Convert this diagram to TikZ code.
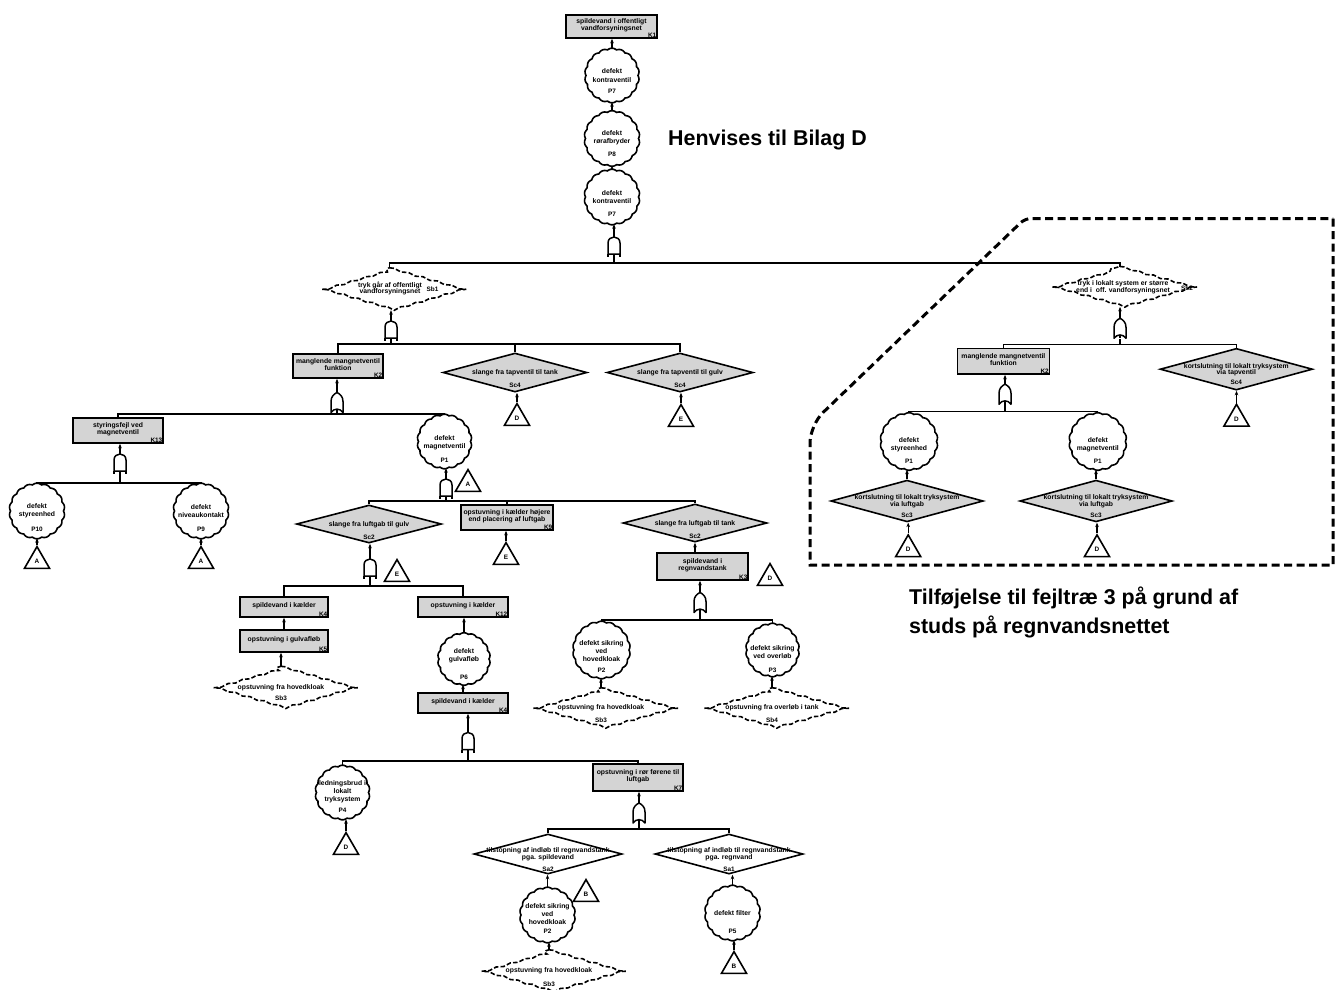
\documentclass[tikz,border=0pt]{standalone}
\usepackage{fontspec}
\setmainfont{Liberation Sans}
\usetikzlibrary{shapes.geometric,arrows.meta,decorations.pathmorphing}

\definecolor{boxgray}{RGB}{212,212,212}

\tikzset{
  conn/.style={line width=1.2pt},
  arr/.style={line width=1.2pt, -{Stealth[length=4.5pt,width=3.6pt]}},
  boxshape/.style={rectangle, draw, line width=1.6pt, fill=boxgray, inner sep=0pt},
  smalltext/.style={font=\bfseries\fontsize{6.8}{6.8}\selectfont, align=center, inner sep=0pt},
  circtext/.style={font=\bfseries\fontsize{6.8}{8.2}\selectfont, align=center, inner sep=0pt},
  codetext/.style={font=\bfseries\fontsize{6.4}{7}\selectfont, inner sep=1.3pt},
  circshape/.style={circle, inner sep=0pt},
  wavyline/.style={line width=1.6pt, fill=white},
  diashape/.style={diamond, draw, line width=1.6pt, fill=boxgray, inner sep=0pt},
  whitedia/.style={diamond, draw, line width=1.6pt, fill=white, inner sep=0pt},
  dashdia/.style={diamond, inner sep=0pt},
  dashline/.style={line width=1.6pt, dash pattern=on 4.5pt off 2.2pt,
    decorate, decoration={snake, amplitude=0.8pt, segment length=15pt}},
  tri/.style={regular polygon, regular polygon sides=3, draw, line width=1.6pt,
    fill=white, minimum size=29pt, inner sep=0pt, font=\bfseries\fontsize{6.4}{7}\selectfont},
  gatebox/.style={rectangle, minimum width=13pt, minimum height=20pt, inner sep=0pt},
  gateline/.style={line width=1.5pt, fill=white, line join=round},
  region/.style={line width=3pt, dash pattern=on 8pt off 4.5pt},
  bigtext/.style={font=\bfseries\fontsize{21.4}{25}\selectfont, inner sep=0pt},
}

% event box: name, x, y, width, height, text, code
\newcommand\ebox[7]{%
  \node[boxshape, minimum width=#4pt, minimum height=#5pt] (#1) at (#2,#3) {};
  \node[smalltext] (#1t) at (#2,{#3-1.5}) {#6};
  \node[codetext, anchor=south east] (#1c) at (#1.south east) {#7};}

% scalloped circle: name, x, y, radius, text, code, text dy, code dy
\newcommand\ecirc[8]{%
  \draw[wavyline] plot[domain=0:360,samples=217,variable=\t]
    ({#2+(#4-0.5+1.3*abs(sin(9*\t)))*cos(\t)},{#3+(#4-0.5+1.3*abs(sin(9*\t)))*sin(\t)}) -- cycle;
  \pgfmathsetmacro\circdiam{2*#4}%
  \node[circshape, minimum size=\circdiam pt] (#1) at (#2,#3) {};
  \node[circtext] (#1t) at (#2,{#3+#7}) {#5};
  \node[codetext] (#1c) at (#2,{#3+#8}) {#6};}

% solid diamond: style, name, x, y, width, height, text, code, code dy
\newcommand\edia[9]{%
  \node[#1, minimum width=#5pt, minimum height=#6pt] (#2) at (#3,#4) {};
  \node[smalltext] (#2t) at (#3,{#4+0.5}) {#7};
  \node[codetext] (#2c) at (#3,{#4+#9}) {#8};}

% dashed diamond: name, x, y, width, height, text, code, code dy
\newcommand\sbdia[8]{%
  \node[dashdia, minimum width=#4pt, minimum height=#5pt] (#1) at (#2,#3) {};
  \draw[dashline] (#1.north) -- (#1.east) -- (#1.south) -- (#1.west) -- cycle;
  \node[smalltext] (#1t) at (#2,#3) {#6};
  \node[codetext] (#1c) at (#2,{#3+#8}) {#7};}

% gates: name, x, y
\newcommand\andgate[3]{%
  \node[gatebox] (#1) at (#2,#3) {};
  \begin{scope}[shift={(#2,#3)}]
    \draw[gateline] (-6,7) -- (-6,-4) .. controls (-6,-12) and (6,-12) .. (6,-4) -- (6,7) -- cycle;
    \draw[gateline] (-6,7) -- (-6,10) (6,7) -- (6,10) (0,7) -- (0,10);
  \end{scope}}
\newcommand\orgate[3]{%
  \node[gatebox] (#1) at (#2,#3) {};
  \begin{scope}[shift={(#2,#3)}]
    \draw[gateline] (-6,10) -- (-6,-1) .. controls (-6,-6) and (-3,-8.5) .. (0,-10)
      .. controls (3,-8.5) and (6,-6) .. (6,-1) -- (6,10) .. controls (3,5.5) and (-3,5.5) .. (-6,10) -- cycle;
    \draw[gateline] (0,6.6) -- (0,10);
  \end{scope}}

\begin{document}
\begin{tikzpicture}[x=1pt,y=-1pt]
\useasboundingbox (0,0) rectangle (1343,989);

% ---------- top event chain
\ebox{K1}{611.5}{26.5}{91}{23}{spildevand i offentligt\\vandforsyningsnet}{K1}
\ecirc{P7a}{612}{75.5}{26.5}{defekt\\kontraventil}{P7}{0}{16}
\ecirc{P8}{612}{138.5}{27}{defekt\\rørafbryder}{P8}{-1}{16}
\ecirc{P7b}{612}{197}{27}{defekt\\kontraventil}{P7}{0}{17}
\andgate{G1}{614}{247}
\draw[arr] (P7a.north) -- (P7a.north |- K1.south);
\draw[arr] (P8.north) -- (P7a.south);
\draw[arr] (P7b.north) -- (P8.south);
\draw[arr] (G1.north) -- (G1.north |- P7b.south);

\node[bigtext, anchor=base west] (ref) at (668,145) {Henvises til Bilag D};

% ---------- first split
\node[dashdia, minimum width=145pt, minimum height=42pt] (Sb1) at (389.5,289) {};
\draw[dashline] (Sb1.north) -- (Sb1.east) -- (Sb1.south) -- (Sb1.west) -- cycle;
\node[smalltext] (Sb1t) at (390,288.5) {tryk går af offentligt\\vandforsyningsnet};
\node[codetext] (Sb1c) at (432.5,289) {Sb1};

\node[dashdia, minimum width=145pt, minimum height=40pt] (Sb2) at (1120,286.7) {};
\draw[dashline] (Sb2.north) -- (Sb2.east) -- (Sb2.south) -- (Sb2.west) -- cycle;
\node[smalltext] (Sb2t) at (1123,287) {tryk i lokalt system er større\\end i~~off. vandforsyningsnet};
\node[codetext] (Sb2c) at (1187,288) {Sb2};

\coordinate (b1) at (614,263);
\draw[conn] (G1.south) -- (b1);
\draw[conn] (Sb1.north) |- (b1) -| (Sb2.north);

% ---------- Sb1 subtree
\andgate{G2}{391}{331}
\coordinate (b2) at (391,344);
\ebox{K2l}{338}{366}{90}{24}{manglende mangnetventil\\funktion}{K2}
\edia{diashape}{Sc4a}{515}{372.5}{144}{39}{slange fra tapventil til tank}{Sc4}{12.5}
\edia{diashape}{Sc4b}{680}{372.5}{146}{39}{slange fra tapventil til gulv}{Sc4}{12.5}
\node[tri, anchor=north] (TD1) at (517,402) {D};
\node[tri, anchor=north] (TE1) at (681,403) {E};
\draw[arr] (G2.north) -- (G2.north |- Sb1.south);
\draw[conn] (G2.south) -- (b2);
\draw[conn] (K2l.north) |- (b2) -| (Sc4b.north);
\draw[conn] (Sc4a.north) -- (Sc4a.north |- b2);
\draw[arr] (TD1.north) -- (TD1.north |- Sc4a.south);
\draw[arr] (TE1.north) -- (TE1.north |- Sc4b.south);

% ---------- K2 subtree
\orgate{G3}{337}{402.5}
\coordinate (b3) at (337,414);
\ebox{K13}{118}{430.5}{90}{25}{styringsfejl ved\\magnetventil}{K13}
\ecirc{P1}{444.5}{441.5}{26.5}{defekt\\magnetventil}{P1}{1}{19}
\draw[arr] (G3.north) -- (G3.north |- K2l.south);
\draw[conn] (G3.south) -- (b3);
\draw[conn] (K13.north) |- (b3) -| (P1.north);

% ---------- K13 subtree
\andgate{G4}{120}{464}
\coordinate (b4) at (120,483);
\ecirc{P10}{37}{511}{27}{defekt\\styreenhed}{P10}{0}{18}
\ecirc{P9}{201}{511}{27}{defekt\\niveaukontakt}{P9}{0}{18}
\node[tri, anchor=north] (TA1) at (37,545) {A};
\node[tri, anchor=north] (TA2) at (201,545) {A};
\draw[arr] (G4.north) -- (G4.north |- K13.south);
\draw[conn] (G4.south) -- (b4);
\draw[conn] (P10.north) |- (b4) -| (P9.north);
\draw[arr] (TA1.north) -- (P10.south);
\draw[arr] (TA2.north) -- (P9.south);

% ---------- P1 subtree
\node[tri, anchor=north] (TA3) at (468,468) {A};
\andgate{G5}{446}{489}
\coordinate (b5) at (446,501);
\edia{diashape}{Sc2a}{369}{524}{145}{38}{slange fra luftgab til gulv}{Sc2}{13}
\ebox{K9}{507}{517.5}{92}{25}{opstuvning i kælder højere\\end placering af luftgab}{K9}
\edia{diashape}{Sc2b}{695}{523}{144}{38}{slange fra luftgab til tank}{Sc2}{13}
\node[tri, anchor=north] (TE2) at (506,541) {E};
\draw[arr] (G5.north) -- (G5.north |- P1.south);
\draw[conn] (G5.south) -- (b5);
\draw[conn] (Sc2a.north) |- (b5) -| (Sc2b.north);
\draw[conn] (K9.north) -- (K9.north |- b5);
\draw[arr] (TE2.north) -- (TE2.north |- K9.south);

% ---------- Sc2 (gulv) subtree
\andgate{G6}{370}{569}
\node[tri, anchor=north] (TE3) at (397,558) {E};
\coordinate (b6) at (370,586);
\ebox{K4a}{284}{607}{88}{20}{spildevand i kælder}{K4}
\ebox{K12}{463}{607}{90}{20}{opstuvning i kælder}{K12}
\ebox{K5}{284}{641}{88}{22}{opstuvning i gulvafløb}{K5}
\sbdia{Sb3a}{281}{687.5}{146}{42}{opstuvning fra hovedkloak}{Sb3}{11}
\ecirc{P6}{464}{659}{25.5}{defekt\\gulvafløb}{P6}{-3}{18}
\ebox{K4b}{463}{703}{90}{20}{spildevand i kælder}{K4}
\draw[arr] (G6.north) -- (G6.north |- Sc2a.south);
\draw[conn] (G6.south) -- (b6);
\draw[conn] (K4a.north) |- (b6) -| (K12.north);
\draw[arr] (K5.north) -- (K4a.south);
\draw[arr] (Sb3a.north) -- (Sb3a.north |- K5.south);
\draw[arr] (P6.north) -- (P6.north |- K12.south);
\draw[arr] (K4b.north) -- (K4b.north |- P6.south);

% ---------- K4 subtree
\andgate{G8}{468}{742.5}
\coordinate (b8) at (468,761);
\ecirc{P4}{342.5}{792.5}{26.5}{ledningsbrud i\\lokalt\\tryksystem}{P4}{-1}{18}
\node[tri, anchor=north] (TD3) at (346,831) {D};
\ebox{K7}{638}{777.5}{90}{27}{opstuvning i rør førene til\\luftgab}{K7}
\draw[arr] (G8.north) -- (G8.north |- K4b.south);
\draw[conn] (G8.south) -- (b8);
\draw[conn] (P4.north) |- (b8) -| (K7.north);
\draw[arr] (TD3.north) -- (TD3.north |- P4.south);

% ---------- K7 subtree
\orgate{G9}{639}{813}
\coordinate (b9) at (639,829);
\edia{whitedia}{Sa2}{548}{854}{148}{40}{tilstopning af indløb til regnvandstank\\pga. spildevand}{Sa2}{15}
\edia{whitedia}{Sa1}{729}{854}{148}{40}{tilstopning af indløb til regnvandstank\\pga. regnvand}{Sa1}{15}
\ecirc{P2b}{547.5}{915}{27}{defekt sikring\\ved\\hovedkloak}{P2}{-1}{16}
\node[tri, anchor=north] (TB1) at (586,878) {B};
\sbdia{Sb3b}{549}{971}{146}{42}{opstuvning fra hovedkloak}{Sb3}{13}
\ecirc{P5}{732.5}{913}{27}{defekt filter}{P5}{0}{18}
\node[tri, anchor=north] (TB2) at (734,950) {B};
\draw[arr] (G9.north) -- (G9.north |- K7.south);
\draw[conn] (G9.south) -- (b9);
\draw[conn] (Sa2.north) |- (b9) -| (Sa1.north);
\draw[arr] (P2b.north) -- (P2b.north |- Sa2.south);
\draw[arr] (Sb3b.north) -- (Sb3b.north |- P2b.south);
\draw[arr] (P5.north) -- (P5.north |- Sa1.south);
\draw[arr] (TB2.north) -- (TB2.north |- P5.south);

% ---------- Sc2 (tank) subtree
\ebox{K3}{702.5}{566.5}{91}{27}{spildevand i\\regnvandstank}{K3}
\node[tri, anchor=north] (TD2) at (770,562) {D};
\orgate{G7}{700}{602.5}
\coordinate (b7) at (700,620);
\ecirc{P2a}{601.5}{650}{28}{defekt sikring\\ved\\hovedkloak}{P2}{1}{20}
\ecirc{P3}{772.5}{650}{26}{defekt sikring\\ved overløb}{P3}{2}{20}
\sbdia{Sb3c}{601}{708}{146}{40}{opstuvning fra hovedkloak}{Sb3}{12}
\sbdia{Sb4}{772}{708}{146}{40}{opstuvning fra overløb i tank}{Sb4}{12}
\draw[arr] (Sc2b.south |- K3.north) -- (Sc2b.south);
\draw[arr] (G7.north) -- (G7.north |- K3.south);
\draw[conn] (G7.south) -- (b7);
\draw[conn] (P2a.north) |- (b7) -| (P3.north);
\draw[arr] (Sb3c.north) -- (Sb3c.north |- P2a.south);
\draw[arr] (Sb4.north) -- (Sb4.north |- P3.south);

% ---------- Sb2 subtree (addition)
\orgate{G10}{1120}{328.3}
\coordinate (b10) at (1120,344.3);
\ebox{K2r}{1003.4}{361.2}{92}{25.7}{manglende mangnetventil\\funktion}{K2}
\edia{diashape}{Sc4c}{1236.3}{369.2}{152.5}{41.7}{kortslutning til lokalt tryksystem\\via tapventil}{Sc4}{13}
\node[tri, anchor=north] (TD4) at (1236.5,402.7) {D};
\orgate{G11}{1005}{394.2}
\coordinate (b11) at (1005,411.7);
\ecirc{P1s}{909}{441.5}{28}{defekt\\styreenhed}{P1}{3}{19.5}
\ecirc{P1m}{1097.8}{441.5}{28}{defekt\\magnetventil}{P1}{3}{19.5}
\edia{diashape}{Sc3a}{907}{501}{152.5}{41.7}{kortslutning til lokalt tryksystem\\via luftgab}{Sc3}{14}
\edia{diashape}{Sc3b}{1096}{501}{152.5}{41.7}{kortslutning til lokalt tryksystem\\via luftgab}{Sc3}{14}
\node[tri, anchor=north] (TD5) at (908.2,533.3) {D};
\node[tri, anchor=north] (TD6) at (1097,533.3) {D};
\draw[arr] (G10.north) -- (G10.north |- Sb2.south);
\draw[conn] (G10.south) -- (b10);
\draw[conn] (K2r.north) |- (b10) -| (Sc4c.north);
\draw[arr] (TD4.north) -- (TD4.north |- Sc4c.south);
\draw[arr] (G11.north) -- (G11.north |- K2r.south);
\draw[conn] (G11.south) -- (b11);
\draw[conn] (P1s.north) |- (b11) -| (P1m.north);
\draw[arr] (Sc3a.north) -- (Sc3a.north |- P1s.south);
\draw[arr] (Sc3b.north) -- (Sc3b.north |- P1m.south);
\draw[arr] (TD5.north) -- (TD5.north |- Sc3a.south);
\draw[arr] (TD6.north) -- (TD6.north |- Sc3b.south);

% frame around the addition
\draw[region] (1333,218.5) -- (1333,565) -- (810,565) [rounded corners=18pt] -- (810,425)
  [rounded corners=6pt] -- (1025,218.5) [sharp corners] -- cycle;

\node[bigtext, anchor=base west] (add1) at (909,604) {Tilføjelse til fejltræ 3 på grund af};
\node[bigtext, anchor=base west] (add2) at (909,633.3) {studs på regnvandsnettet};
\end{tikzpicture}
\end{document}
